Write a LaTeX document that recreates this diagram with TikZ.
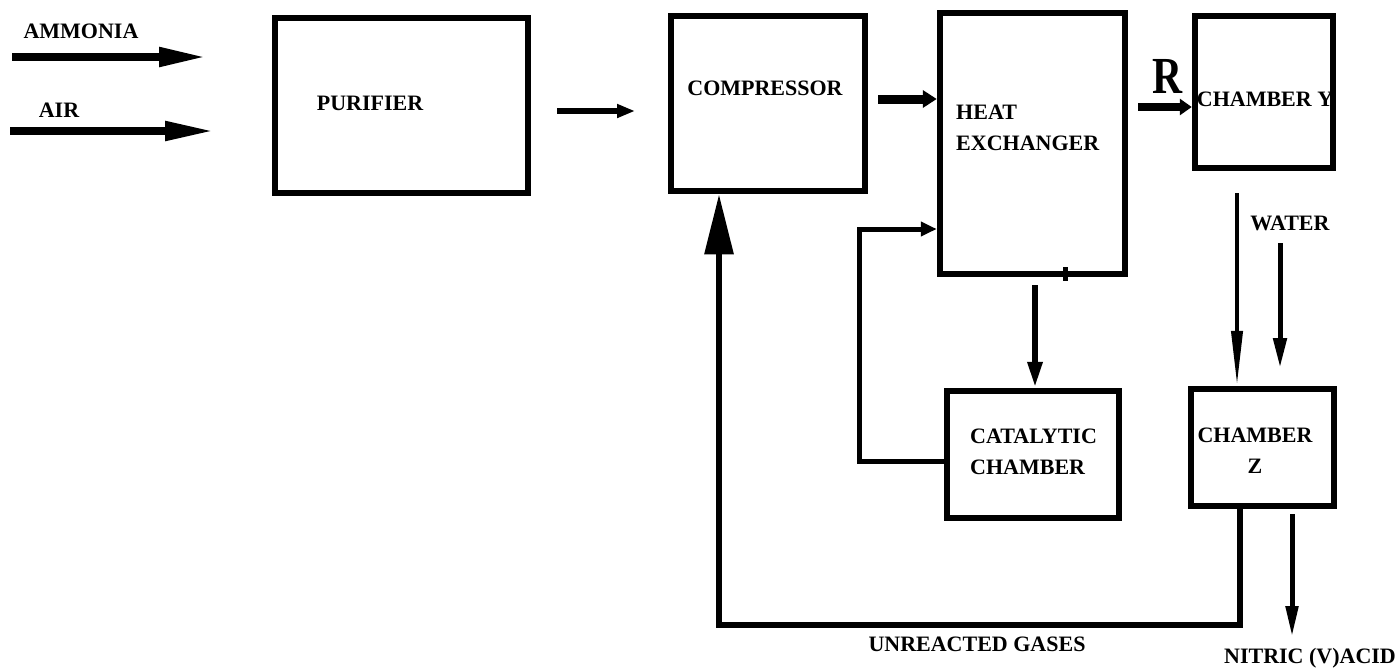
\documentclass[tikz,border=0pt]{standalone}
\usepackage{fontspec}
\setmainfont{Liberation Serif}
\usetikzlibrary{arrows.meta, calc, positioning}

\begin{document}
\begin{tikzpicture}[x=1pt, y=-1pt,
    unit/.style={draw, rectangle, line width=6.5pt, inner sep=0pt},
    lbl/.style={font=\fontsize{22}{31}\selectfont\bfseries, inner sep=0pt},
    flow/.style n args={3}{line width=#1, -{Triangle[length=#2, width=#3]}}]
    \useasboundingbox (0,0) rectangle (1396,670);

    % Cac khoi thiet bi
    \node[unit, minimum width=253pt, minimum height=175pt] (pur) at (401.5,105.5) {};
    \node[unit, minimum width=194pt, minimum height=175pt] (comp) at (768,103.5) {};
    \node[unit, minimum width=185pt, minimum height=261pt] (hx) at (1032.5,143.5) {};
    \node[unit, minimum width=138pt, minimum height=152pt] (chy) at (1264,92) {};
    \node[unit, minimum width=172pt, minimum height=127pt] (cat) at (1033,454.5) {};
    \node[unit, minimum width=143pt, minimum height=117pt] (chz) at (1262.5,447.5) {};

    % Nhan
    \node[lbl] (tpur) at (370,103) {PURIFIER};
    \node[lbl] (tcomp) at (765,88) {COMPRESSOR};
    \node[lbl, align=left, anchor=west] (thx) at (956,128) {HEAT\\EXCHANGER};
    \node[lbl] (tchy) at (1265,99) {CHAMBER Y};
    \node[lbl, align=left, anchor=west] (tcat) at (970,452) {CATALYTIC\\CHAMBER};
    \node[lbl, align=center] (tchz) at (1255,451) {CHAMBER\\Z};
    \node[lbl] (tnh3) at (81,31) {AMMONIA};
    \node[lbl] (tair) at (59,110) {AIR};
    \node[lbl] (twater) at (1290,223) {WATER};
    \node[lbl] (tgas) at (977,644) {UNREACTED GASES};
    \node[lbl] (tacid) at (1310,658) {NITRIC (V)ACID};
    \node[inner sep=0pt] (tr) at (1168,76)
        {\scalebox{0.8}[1]{\fontsize{52}{52}\selectfont\bfseries R}};

    % Diem dau, diem cuoi tu do
    \coordinate (nh3a) at (12,57);   \coordinate (nh3b) at (207,57);
    \coordinate (aira) at (10,131);  \coordinate (airb) at (215,131);
    \coordinate (gasa) at (557,111); \coordinate (gasb) at (635,111);
    \coordinate (ret) at (719,625);
    \coordinate (bend) at (859,229);
    \coordinate (cpout) at ($(comp.east)+(10,-4.5)$);
    \coordinate (hxout) at ($(hx.south)+(2.5,8)$);
    \coordinate (rout) at ($(hx.east |- chy.west)+(10,15)$);
    \coordinate (yz) at ($(chy.south)+(-27,22)$);
    \coordinate (wata) at (1280,243); \coordinate (watb) at (1280,368);
    \coordinate (acida) at ($(chz.south)+(29.5,5)$); \coordinate (acidb) at (1292,637);

    % Dong chay
    \draw[flow={8pt}{48pt}{18pt}] (nh3a) -- (nh3b);
    \draw[flow={8pt}{50pt}{18pt}] (aira) -- (airb);
    \draw[flow={6pt}{18pt}{13pt}] (gasa) -- (gasb);
    \draw[flow={9pt}{14pt}{17pt}] (cpout) -- (cpout -| hx.west);
    \draw[flow={6pt}{26pt}{14pt}] (hxout) -- (hxout |- cat.north);
    \draw[flow={5pt}{16pt}{14pt}] ([yshift=-6.5pt]cat.west) -| (bend) -- (bend -| hx.west);
    \draw[flow={6pt}{60pt}{28pt}] ([xshift=-22.5pt]chz.south) |- (ret) -- (ret |- comp.south);
    \draw[flow={8pt}{12pt}{16pt}] (rout) -- (rout -| chy.west);
    \draw[flow={4pt}{55pt}{11pt}] (yz) -- (yz |- chz.north);
    \draw[flow={5pt}{30pt}{13pt}] (wata) -- (watb);
    \draw[flow={5pt}{31pt}{12pt}] (acida) -- (acidb);
    \draw[line width=5pt] ($(hx.south)+(32.5,-10)$) -- ++(0,14);

\end{tikzpicture}
\end{document}
